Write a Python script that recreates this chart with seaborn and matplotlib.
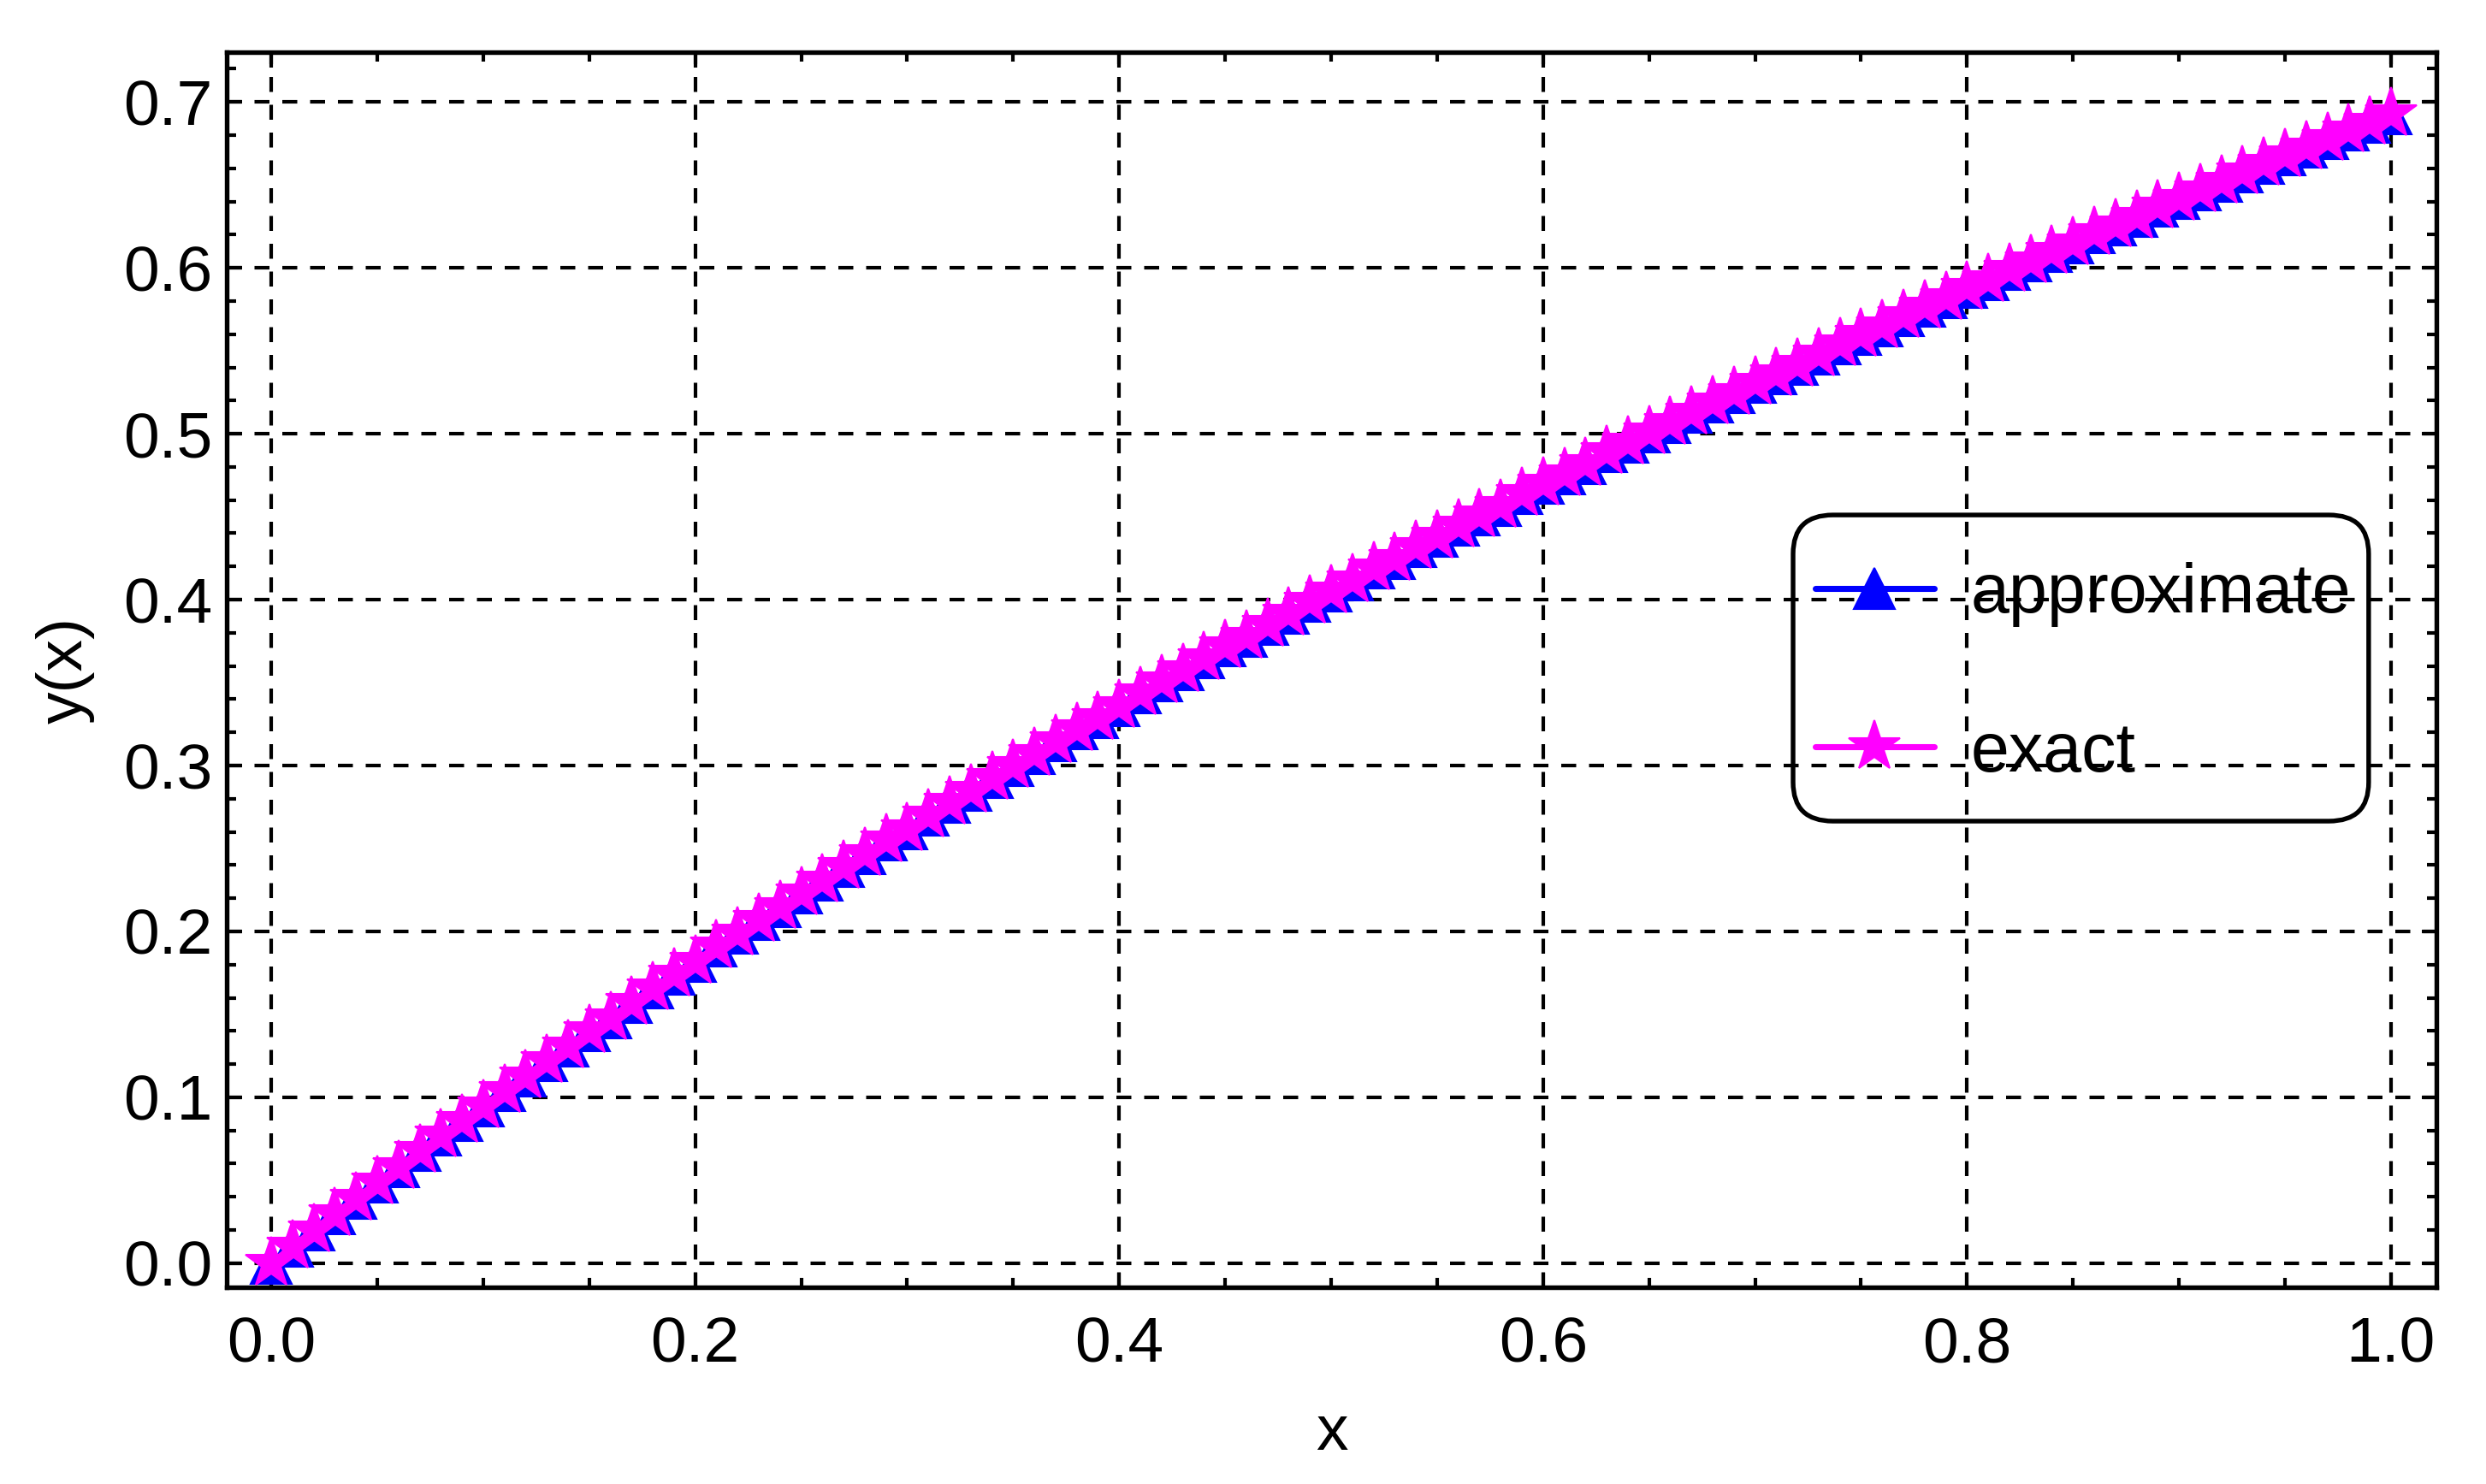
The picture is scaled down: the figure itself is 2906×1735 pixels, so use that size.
import matplotlib
matplotlib.use("Agg")
import matplotlib.pyplot as plt
import seaborn as sns
import numpy as np
import pandas as pd
from matplotlib.ticker import MultipleLocator
from matplotlib.patches import FancyBboxPatch

x_vals = [0.00, 0.01, 0.02, 0.03, 0.04, 0.05, 0.06, 0.07, 0.08, 0.09,
          0.10, 0.11, 0.12, 0.13, 0.14, 0.15, 0.16, 0.17, 0.18, 0.19,
          0.20, 0.21, 0.22, 0.23, 0.24, 0.25, 0.26, 0.27, 0.28, 0.29,
          0.30, 0.31, 0.32, 0.33, 0.34, 0.35, 0.36, 0.37, 0.38, 0.39,
          0.40, 0.41, 0.42, 0.43, 0.44, 0.45, 0.46, 0.47, 0.48, 0.49,
          0.50, 0.51, 0.52, 0.53, 0.54, 0.55, 0.56, 0.57, 0.58, 0.59,
          0.60, 0.61, 0.62, 0.63, 0.64, 0.65, 0.66, 0.67, 0.68, 0.69,
          0.70, 0.71, 0.72, 0.73, 0.74, 0.75, 0.76, 0.77, 0.78, 0.79,
          0.80, 0.81, 0.82, 0.83, 0.84, 0.85, 0.86, 0.87, 0.88, 0.89,
          0.90, 0.91, 0.92, 0.93, 0.94, 0.95, 0.96, 0.97, 0.98, 0.99,
          1.00]

exact_vals = [0.000, 0.010, 0.020, 0.030, 0.039, 0.049, 0.058, 0.068, 0.077, 0.086,
              0.095, 0.104, 0.113, 0.122, 0.131, 0.140, 0.148, 0.157, 0.166, 0.174,
              0.182, 0.191, 0.199, 0.207, 0.215, 0.223, 0.231, 0.239, 0.247, 0.255,
              0.262, 0.270, 0.278, 0.285, 0.293, 0.300, 0.307, 0.315, 0.322, 0.329,
              0.336, 0.344, 0.351, 0.358, 0.365, 0.372, 0.378, 0.385, 0.392, 0.399,
              0.405, 0.412, 0.419, 0.425, 0.432, 0.438, 0.445, 0.451, 0.457, 0.464,
              0.470, 0.476, 0.482, 0.489, 0.495, 0.501, 0.507, 0.513, 0.519, 0.525,
              0.531, 0.536, 0.542, 0.548, 0.554, 0.560, 0.565, 0.571, 0.577, 0.582,
              0.588, 0.593, 0.599, 0.604, 0.610, 0.615, 0.621, 0.626, 0.631, 0.637,
              0.642, 0.647, 0.652, 0.658, 0.663, 0.668, 0.673, 0.678, 0.683, 0.688,
              0.693]

approx_vals = [0.000, 0.010, 0.020, 0.030, 0.039, 0.049, 0.058, 0.068, 0.077, 0.086,
               0.095, 0.104, 0.113, 0.122, 0.131, 0.140, 0.148, 0.157, 0.166, 0.174,
               0.182, 0.191, 0.199, 0.207, 0.215, 0.223, 0.231, 0.239, 0.247, 0.255,
               0.262, 0.270, 0.278, 0.285, 0.293, 0.300, 0.307, 0.315, 0.322, 0.329,
               0.336, 0.344, 0.351, 0.358, 0.365, 0.372, 0.378, 0.385, 0.392, 0.399,
               0.405, 0.412, 0.419, 0.425, 0.432, 0.438, 0.445, 0.451, 0.457, 0.464,
               0.470, 0.476, 0.482, 0.489, 0.495, 0.501, 0.507, 0.513, 0.519, 0.525,
               0.531, 0.536, 0.542, 0.548, 0.554, 0.560, 0.565, 0.571, 0.577, 0.582,
               0.588, 0.593, 0.599, 0.604, 0.610, 0.615, 0.621, 0.626, 0.631, 0.637,
               0.642, 0.647, 0.652, 0.658, 0.663, 0.668, 0.673, 0.678, 0.683, 0.688,
               0.693]

series_labels = ["approximate", "exact"]
x_ticks = [0.0, 0.2, 0.4, 0.6, 0.8, 1.0]
y_ticks = [0.0, 0.1, 0.2, 0.3, 0.4, 0.5, 0.6, 0.7]

sns.set_theme(style="ticks")
plt.rcParams['font.family'] = ['Liberation Sans', 'DejaVu Sans']
plt.rcParams['text.color'] = 'black'
plt.rcParams['axes.labelcolor'] = 'black'
plt.rcParams['xtick.color'] = 'black'
plt.rcParams['ytick.color'] = 'black'
plt.rcParams['axes.linewidth'] = 1.3

fig = plt.figure(figsize=(2906 / 300, 1735 / 300), dpi=300)
ax = fig.add_axes([0.0912, 0.1326, 0.8888, 0.8322])

sns.lineplot(x=x_vals, y=approx_vals, ax=ax, color=(0, 0, 1), linewidth=1.7,
             marker='^', markersize=11.5, markeredgecolor=(0, 0, 1), markeredgewidth=0.5,
             label=series_labels[0], zorder=3)
sns.lineplot(x=x_vals, y=exact_vals, ax=ax, color=(1, 0, 1), linewidth=1.7,
             marker='*', markersize=15, markeredgecolor=(1, 0, 1), markeredgewidth=0.5,
             label=series_labels[1], zorder=4)

ax.set_xlim(-0.021, 1.0214)
ax.set_ylim(-0.0145, 0.730)
ax.set_xticks(x_ticks)
ax.set_yticks(y_ticks)
ax.set_xticklabels([f"{v:.1f}" for v in x_ticks])
ax.set_yticklabels([f"{v:.1f}" for v in y_ticks])
ax.xaxis.set_minor_locator(MultipleLocator(0.05))
ax.yaxis.set_minor_locator(MultipleLocator(0.02))
ax.tick_params(which='both', direction='in', top=True, right=True, colors='black',
               width=1.0)
ax.tick_params(which='major', length=4.2, labelsize=18)
ax.tick_params(axis='y', which='major', pad=4)
ax.tick_params(axis='x', which='major', pad=8)
ax.tick_params(which='minor', length=2.6)

ax.grid(True, which='major', color='black', linestyle=(0, (4.2, 3.6)), linewidth=1.0)
for s in ax.spines.values():
    s.set_color('black')
    s.set_linewidth(1.3)
    s.set_visible(True)

ax.set_xlabel("x", fontsize=18, labelpad=8)
ax.set_ylabel("y(x)", fontsize=18, labelpad=8)

leg = ax.legend(loc='center left', bbox_to_anchor=(0.7189, 0.4965), frameon=False,
                fontsize=19.4, labelspacing=1.35, handlelength=1.72,
                handletextpad=0.53, borderpad=0.0, borderaxespad=0.0, markerscale=1.0)

box = FancyBboxPatch((0.7089, 0.3774), 0.9694 - 0.7089, 0.6253 - 0.3774,
                     boxstyle="round,pad=0,rounding_size=0.018",
                     transform=ax.transAxes, facecolor='none', edgecolor='black',
                     linewidth=1.3, zorder=6, mutation_aspect=1.75)
ax.add_patch(box)

fig.savefig("out.png", dpi=300)
